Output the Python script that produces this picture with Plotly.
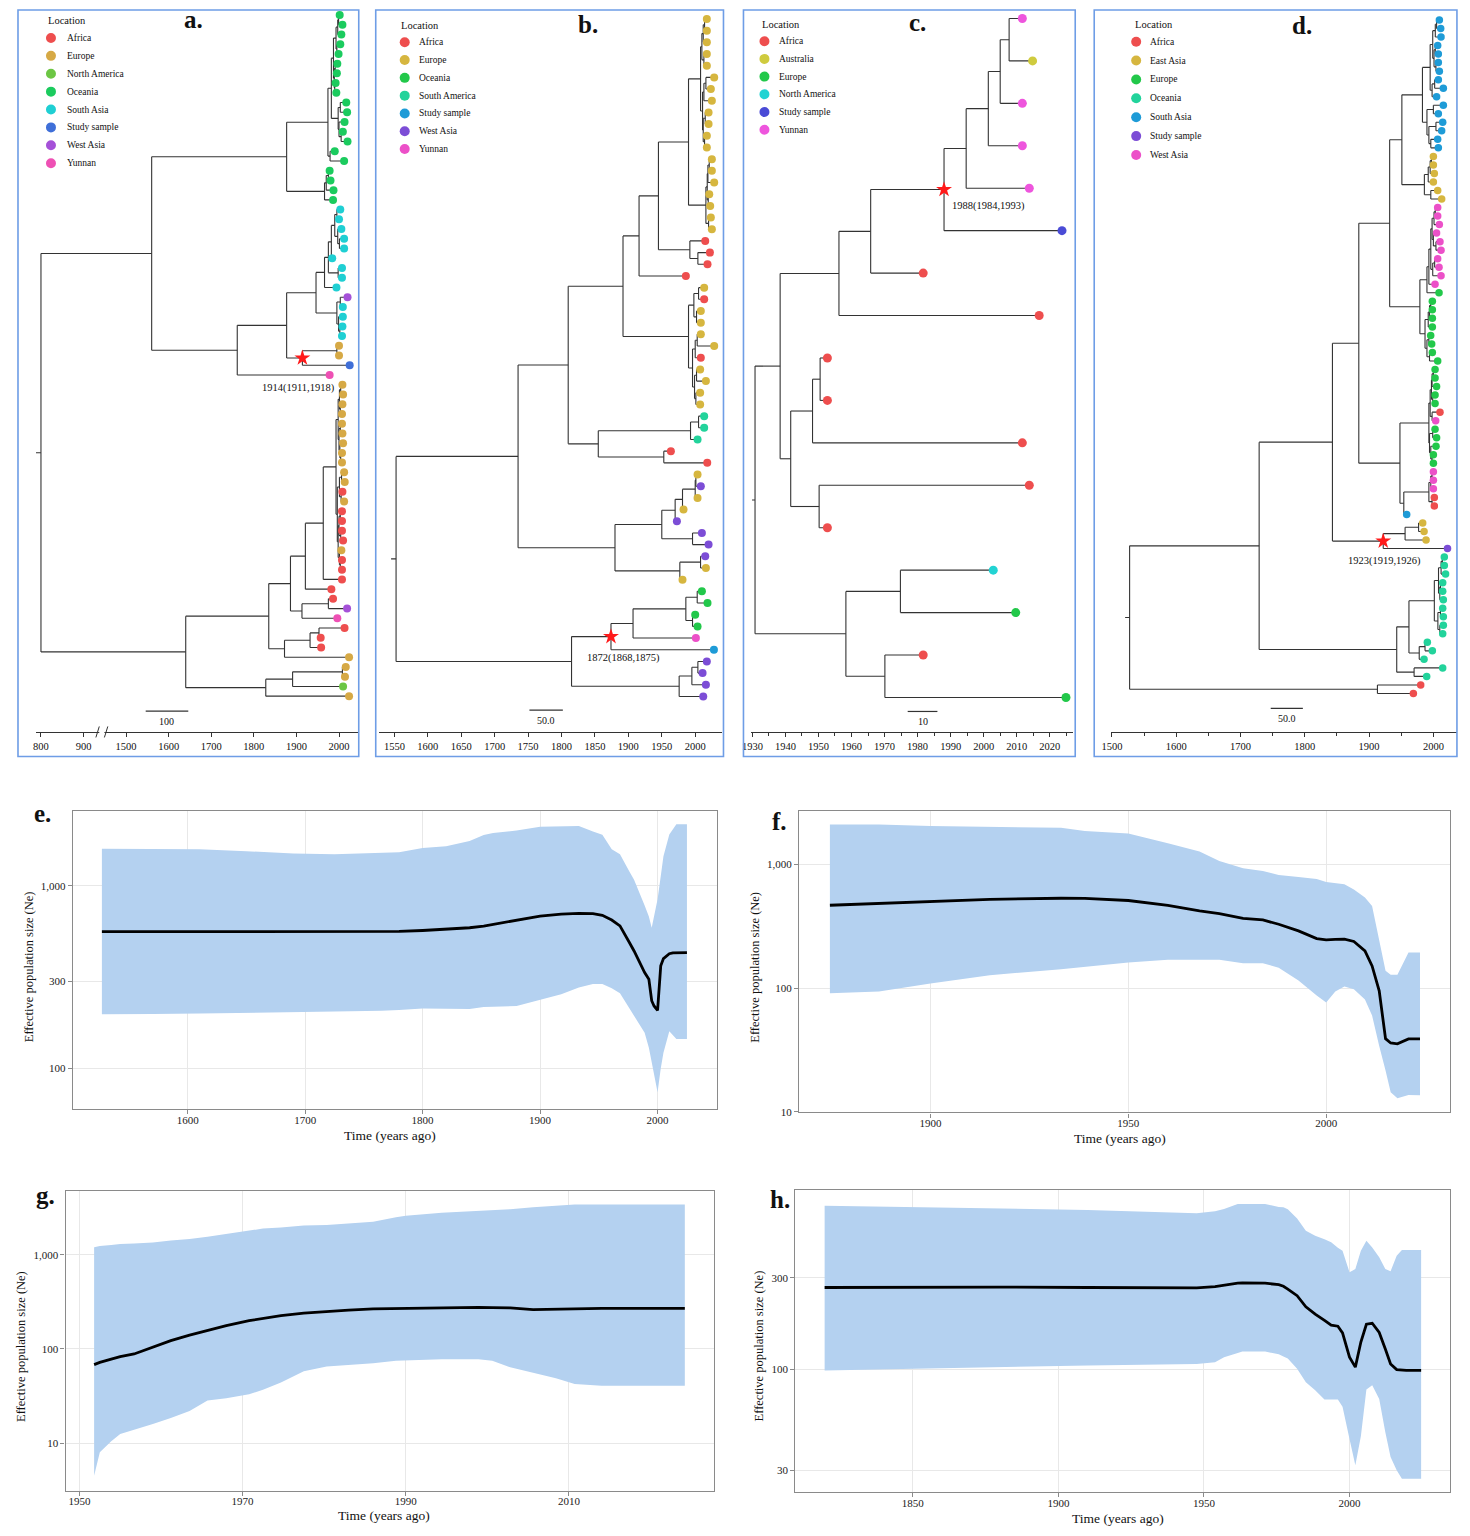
import re
import plotly.graph_objects as go

W, H = 1470, 1536
FONT = "Liberation Serif"

# ======================= TREE DATA =======================
# leaf = CODE:year ; internal = (children)year ; '*' marks the annotated node
# ---- tree a ----
A_CODES = ["AF", "EU", "NA", "OC", "SA", "SS", "WA", "YN"]
A_NAMES = ["Africa", "Europe", "North America", "Oceania", "South Asia", "Study sample", "West Asia", "Yunnan"]
A_COLORS = ["#EE4E4E", "#D6A945", "#6CC644", "#1BCB5E", "#1FCFD3", "#3F6FD8", "#A551D8", "#EE50B4"]
A_TICKS = [800, 900, 1500, 1600, 1700, 1800, 1900, 2000]
A_STAR_LABEL = "1914(1911,1918)"
A_ocA = "((((OC:2001.6,OC:2008)1999,OC:2005.5)1997,(OC:2003,OC:1999)1995)1993,((OC:1996,OC:1995)1991,(OC:1992,OC:1993.7)1990)1989)1987"
A_ocB = "((OC:2017,OC:2019)2003,(OC:2013,(OC:2009,OC:2020)2005)2000)1998"
A_ocTop = "((" + A_ocA + "," + A_ocB + ")1982,(OC:1990,OC:2012)1979)1974"
A_ocSmall = "(((OC:1978,OC:1980)1975,OC:1987)1970,OC:1986)1966"
A_oceania = "(" + A_ocTop + "," + A_ocSmall + ")1877"
A_SAg = "(((((SA:2003,SA:2000)1995,(SA:2005.5,(SA:2012,SA:2012)2001)1997)1990,SA:1984)1982,(SA:2007,SA:2007)1998)1975,SA:1994)1966"
A_WAg = "((WA:2020,SA:2009)2003,(SA:2009,(SA:2008,SA:2007)2002)1999)1995"
A_star = "((EU:2000,EU:2000)1995,SS:2025)*1914"
A_saClade = "(((" + A_SAg + "," + A_WAg + ")1946," + A_star + ")1877,YN:1978)1761"
A_upper = "(" + A_oceania + "," + A_saClade + ")1560"
A_p1 = "(((EU:2008,EU:2009.5)2004,(EU:2008,EU:2007)2003)2001,((EU:2007,EU:2008)2003,(EU:2009.5,(EU:2007,EU:2007)2004)2002)2000)1998"
A_p2 = "(((EU:2012,EU:2013.4)2006,(AF:2008,EU:2012)2005)2001,(((AF:2007,AF:2007)2003,(AF:2007,AF:2009.5)2004)2000,(EU:2005.5,(AF:2007,AF:2007)2003)2001)1998)1996"
A_n1921 = "(((" + A_p1 + "," + A_p2 + ")1993,AF:2007)1963,AF:1982)1921"
A_n1886 = "(" + A_n1921 + ",((AF:1986,WA:2019)1975,YN:1996)1913)1886"
A_n1872 = "(((AF:2013,AF:1957)1953,AF:1958)1932,EU:2023.6)1872"
A_small = "(((EU:2015.8,EU:2014)2008,NA:2009.5)1891,EU:2023.6)1828"
A_lower = "((" + A_n1886 + "," + A_n1872 + ")1835," + A_small + ")1640"
TREE_A = "(" + A_upper + "," + A_lower + ")800"

# ---- tree b ----
B_CODES = ["AF", "EU", "OC", "SAm", "SS", "WA", "YN"]
B_NAMES = ["Africa", "Europe", "Oceania", "South America", "Study sample", "West Asia", "Yunnan"]
B_COLORS = ["#EE4E4E", "#D6B63F", "#22C84A", "#22D39B", "#1E9BD7", "#7C4DD6", "#EC50C8"]
B_TICKS = [1550, 1600, 1650, 1700, 1750, 1800, 1850, 1900, 1950, 2000]
B_STAR_LABEL = "1872(1868,1875)"
B_clA = "((((EU:2017.4,EU:2017.4)2014,EU:2017.4)2012,(EU:2017.4,EU:2017.4)2013)2010,(((EU:2028.4,EU:2023.4)2016,EU:2024.9)2013,((EU:2020,EU:2020)2015,(EU:2017.4,EU:2017.4)2014)2012)2011)2008"
B_clB = "((((EU:2024.9,EU:2024.9)2021,EU:2028.4)2019,(EU:2021,EU:2022.4)2019.5)2018,(EU:2023.4,EU:2024.9)2020)2016"
B_n1916 = "(((" + B_clA + "," + B_clB + ")1990,(AF:2015,(AF:2022,AF:2018.4)2004)1992)1945,AF:1986)1916"
B_cl11 = "(((EU:2013.4,AF:2013.4)2005,(EU:2008.4,EU:2008.4)2002)1998,(((EU:2008.4,EU:2028.4)2003,AF:2008.4)2000,((EU:2007.4,EU:2016)2002,(EU:2007.4,EU:2007.4)2001)1999)1996)1990"
B_n1855 = "(((SAm:2013.4,SAm:2013.4)2005,SAm:2003.5)1993,(AF:1963.6,AF:2018)1953)1855"
B_n1810 = "((" + B_n1916 + "," + B_cl11 + ")1892," + B_n1855 + ")1810"
B_n1950 = "(((((EU:2003.5,WA:2008.4)2001,EU:2003.5)2000,EU:1982.5)1981,WA:1972.6)1970,(WA:2010,WA:2020)1996)1950"
B_n1977 = "((WA:2015,EU:2016)2008,EU:1981)1977"
B_n1735 = "(" + B_n1810 + ",(" + B_n1950 + "," + B_n1977 + ")1880)1735"
B_star = "((((OC:2010,OC:2018.4)2003,(OC:2000,OC:2003.5)1996)1986,YN:2001)1907,SS:2028)*1874"
B_waLow = "(((WA:2017.4,WA:2011)2004,WA:2016)1995,WA:2012)1976"
TREE_B = "(" + B_n1735 + ",(" + B_star + "," + B_waLow + ")1815)1552.5"

# ---- tree c ----
C_CODES = ["AF", "AU", "EU", "NA", "SS", "YN"]
C_NAMES = ["Africa", "Australia", "Europe", "North America", "Study sample", "Yunnan"]
C_COLORS = ["#EE4E4E", "#CFCB3E", "#22C84A", "#22D3D3", "#4A4BD6", "#EE55DD"]
C_TICKS = [1930, 1940, 1950, 1960, 1970, 1980, 1990, 2000, 2010, 2020]
C_STAR_LABEL = "1988(1984,1993)"
C_c4 = "((((YN:2011.7,AU:2014.8)2007.7,YN:2011.7)2005,YN:2011.7)2001.4,YN:2013.8)1994.7"
C_c7 = "(((" + C_c4 + ",SS:2023.7)*1988,AF:1981.7)1965.8,AF:2016.8)1956.2"
C_c8 = "(((AF:1952.7,AF:1952.7)1950.5,AF:2011.7)1948.2,(AF:2013.8,AF:1952.7)1950.2)1941.6"
C_low = "((NA:2002.9,EU:2009.7)1974.8,(AF:1981.7,EU:2024.9)1970.1)1958.3"
TREE_C = "((" + C_c7 + "," + C_c8 + ")1938.4," + C_low + ")1930.8"

# ---- tree d ----
D_CODES = ["AF", "EA", "EU", "OC", "SA", "SS", "WA"]
D_NAMES = ["Africa", "East Asia", "Europe", "Oceania", "South Asia", "Study sample", "West Asia"]
D_COLORS = ["#EE4E4E", "#D6B63F", "#22C84A", "#22D39B", "#1E9BD7", "#7C4DD6", "#EC50C8"]
D_TICKS = [1500, 1600, 1700, 1800, 1900, 2000]
D_STAR_LABEL = "1923(1919,1926)"
D_SAc = "(((((SA:2009.3,SA:2011.4)2005,SA:2011.9)2003,((SA:2006.7,SA:2007.7)2003,(SA:2007.7,SA:2009.3)2004)2001)1999,((SA:2007.7,SA:2015.5)2002,SA:2005)1998)1995,((SA:2015.5,SA:2007.7)2000,((SA:2014.5,SA:2012.9)2004,(SA:2006.7,SA:2007.7)1996)1993)1990)1983"
D_EAc = "((((EA:2000,EA:2000)1997,EA:2001.5)1995,EA:2000)1992,(EA:2006.7,EA:2012.9)1996)1986"
D_WAc = "(((((WA:2006.7,WA:2006.7)2003,WA:2009.3)2001,(WA:2005,(WA:2010.3,WA:2011.9)2004)2000)1998,((WA:2006.7,WA:2008.8)2002,WA:2011.9)1999)1996,WA:2002.6)1993"
D_EU8 = "((((EU:1998.4,EU:1998.4)1996,EU:1998.4)1994,EU:1998.4)1992,((EU:1995.8,EU:1997.4)1993,(EU:1998.4,EU:2006.7)1994)1990)1987"
D_n1932 = "((" + D_SAc + "," + D_EAc + ")1951,((" + D_WAc + ",EU:2008.8)1990," + D_EU8 + ")1979)1932"
D_EUc = "(((((EU:2002.6,EU:2002.6)2000,EU:2005)1998,(EU:2002.6,EU:2002.6)1999)1997,(AF:2010.3,WA:2003.6)1998)1995,((EU:2002.6,EU:2005)1999,(EU:2004.1,(EU:2000,EU:2000)1998)1996)1994)1993"
D_n1954 = "((((WA:2000,WA:2000)1998,WA:2000)1996,(AF:2001.5,AF:2001.5)1998)1993,SA:1958.5)1954"
D_n1884 = "(" + D_n1932 + ",(" + D_EUc + "," + D_n1954 + ")1948)1884"
D_star = "(((EA:1983.4,EA:1985.5)1977,EA:1988.6)1956,SS:2022)*1922"
D_OC10 = "((((OC:2017,OC:2017)2014,OC:2019)2012,((OC:2014.5,OC:2014.5)2011,OC:2015.5)2010)2008,((OC:2014.5,OC:2015.5)2011,(OC:2015.5,OC:2014.5)2010)2007)2001.5"
D_n1943 = "((" + D_OC10 + ",((OC:1990.6,OC:1998.4)1987,OC:1985.5)1978)1962,(OC:2014.5,OC:1989.6)1970)1943"
D_n1729 = "((" + D_n1884 + "," + D_star + ")1843," + D_n1943 + ")1729"
TREE_D = "(" + D_n1729 + ",(AF:1980.3,AF:1968.9)1913)1527.5"

# ======================= SKYLINE DATA =======================
E_YEAR = [1527, 1570, 1610, 1650, 1690, 1725, 1765, 1780, 1800, 1820, 1840, 1852, 1860, 1880, 1900, 1918, 1933, 1945, 1953, 1961,
          1968, 1976, 1980, 1989, 1992.6, 1995, 1997, 2000, 2002.7, 2005, 2010, 2013, 2016, 2025]
E_MED = [562, 562, 561, 560, 560, 561, 562, 563, 570, 578, 590, 603, 615, 650, 683, 700, 708, 705, 690, 650,
         604, 490, 440, 335, 308, 235, 220, 208, 365, 400, 425, 430, 431, 431]
E_LOW = [198, 199, 200, 201, 203, 205, 207, 209, 213, 213, 212, 217, 218, 220, 238, 255, 278, 290, 290, 275,
         258, 215, 195, 157, 130, 108, 92, 74, 100, 122, 160, 152, 145, 145]
E_UPP = [1600, 1590, 1590, 1550, 1505, 1490, 1520, 1530, 1615, 1650, 1760, 1900, 1950, 2010, 2110, 2130, 2130, 1990, 1910, 1590,
         1490, 1200, 1080, 780, 680, 590, 686, 846, 1130, 1455, 1915, 2050, 2180, 2180]

F_YEAR = [1874.6, 1887, 1900, 1915, 1933, 1939, 1950, 1960, 1968, 1973, 1979, 1984, 1988, 1993, 1997.6, 2000, 2002.3, 2004.6,
          2007, 2009.8, 2011.6, 2013.4, 2015, 2016.3, 2018, 2020.8, 2023.7]
F_MED = [467, 481, 500, 521, 532, 530, 510, 465, 420, 400, 365, 355, 328, 290, 251, 245, 247, 248,
         238, 200, 151, 95, 39, 36, 35.4, 38.8, 38.8]
F_LOW = [91, 94, 109, 127, 142, 148, 161, 169, 169, 169, 159, 159, 146, 115, 87, 76.6, 94, 103,
         98, 81, 60, 34, 21.6, 14.4, 12.9, 13.7, 13.6]
F_UPP = [2100, 2100, 2040, 2010, 1970, 1860, 1770, 1480, 1270, 1065, 930, 885, 820, 790, 760, 720, 700, 690,
         627, 540, 460, 250, 138, 128, 128, 194, 194]

G_YEAR = [1951.8, 1952.5, 1953.9, 1955, 1956.7, 1959, 1961.2, 1963.5, 1965.7, 1968, 1970.8, 1972.5, 1974.7, 1977.5,
          1980.3, 1983, 1986, 1988.8, 1990, 1994.4, 1998.9, 2000.6, 2002.8, 2005.6, 2008.4, 2010.7, 2014, 2024.2]
G_MED = [68.2, 72, 78, 83, 88.5, 104, 122.6, 140, 158, 177, 200, 212, 226, 240,
         250, 258, 266, 268, 270, 277, 277, 275, 273, 262, 266, 268, 270, 270]
G_LOW = [4.5, 8, 10.5, 12.5, 14, 16, 18.5, 22, 28.3, 30, 33, 37, 44, 58,
         65, 68, 70.4, 75, 76, 78, 78, 75, 64, 56, 49, 42.5, 40.8, 40.8]
G_UPP = [1204, 1240, 1270, 1300, 1320, 1350, 1420, 1470, 1560, 1660, 1800, 1900, 1950, 2050,
         2070, 2150, 2250, 2500, 2600, 2800, 2920, 2980, 3050, 3200, 3300, 3430, 3430, 3430]

H_YEAR = [1819.7, 1850, 1880, 1910, 1947.5, 1953.8, 1956.9, 1961.6, 1963.2, 1971, 1975.7, 1977.3, 1978.8, 1982, 1985, 1988.2,
          1991.4, 1993.7, 1996, 1997.6, 2000, 2002, 2003.9, 2005.8, 2007.8, 2010.2, 2012.3, 2014.1, 2016.2, 2018, 2019.5, 2024.6]
H_MED = [267, 268, 268, 267, 266, 270, 275, 281, 282, 281, 276, 271, 262, 242, 212, 194,
         180, 170, 168, 155, 116, 103, 139, 172, 174, 156, 128, 107, 100, 99, 99, 99]
H_LOW = [99, 101, 103, 105, 107, 109, 116, 122, 124, 124, 120, 117, 114, 101, 86, 78,
         70, 70, 70, 64, 43.6, 31.8, 45, 78.7, 83, 70.4, 47.3, 35.1, 30, 27.1, 27.1, 27.1]
H_UPP = [710, 700, 690, 675, 648, 664, 682, 724, 724, 724, 700, 697, 680, 610, 527, 496,
         475, 458, 430, 414, 320, 333, 414, 467, 431, 383, 333, 324, 390, 418, 418, 418]


# ======================= HELPERS =======================
def parse_tree(s):
    s = re.sub(r"\s+", "", s)
    pos = 0

    def node():
        nonlocal pos
        if s[pos] == "(":
            pos += 1
            kids = [node()]
            while s[pos] == ",":
                pos += 1
                kids.append(node())
            pos += 1  # ')'
            star = False
            if s[pos] == "*":
                star = True
                pos += 1
            m = re.match(r"[0-9.]+", s[pos:])
            pos += len(m.group())
            return {"t": float(m.group()), "kids": kids, "star": star}
        m = re.match(r"([A-Za-z]+):([0-9.]+)", s[pos:])
        pos += len(m.group())
        return {"t": float(m.group(2)), "loc": m.group(1), "kids": [], "star": False}

    return node()


def assign_y(root):
    tips = []

    def rec(n):
        if not n["kids"]:
            n["y"] = len(tips)
            tips.append(n)
        else:
            for k in n["kids"]:
                rec(k)
            n["y"] = (n["kids"][0]["y"] + n["kids"][-1]["y"]) / 2.0

    rec(root)
    return tips


def collect(n, tf, xs, ys, stars):
    if n["kids"]:
        x = tf(n["t"])
        xs += [x, x, None]
        ys += [n["kids"][0]["y"], n["kids"][-1]["y"], None]
        for k in n["kids"]:
            xs += [x, tf(k["t"]), None]
            ys += [k["y"], k["y"], None]
            collect(k, tf, xs, ys, stars)
        if n["star"]:
            stars.append(n)


def broken(t):
    if t <= 900:
        return (t - 800) / 100.0
    if t >= 1500:
        return 2 + (t - 1500) / 100.0
    return 1 + (t - 900) / 600.0


def ident(t):
    return t


# page-placement calibration (rendered page sits slightly offset/scaled in the snapshot)
CAL_X0, CAL_SX, CAL_SY = 8.0, 0.9946, 0.9975


def PX(p):
    return ((p - CAL_X0) / CAL_SX) / W


def PY(p):
    return 1 - (p / CAL_SY) / H


def note(x, y, text, size, xanchor="center", yanchor="middle", bold=False, angle=0, xref="paper", yref="paper",
         xshift=0, yshift=0):
    return dict(x=x, y=y, xref=xref, yref=yref, text=("<b>" + text + "</b>") if bold else text, showarrow=False,
                xanchor=xanchor, yanchor=yanchor, textangle=angle, xshift=xshift, yshift=yshift,
                font=dict(family=FONT, size=size, color="#111"))


fig = go.Figure()
layout = {}
shapes = []
annotations = []

TREE_TOP, TREE_AXIS = 10, 733
TREE_PANELS = [
    dict(letter="a.", tree=TREE_A, codes=A_CODES, names=A_NAMES, colors=A_COLORS, tf=broken, ticks=A_TICKS,
         minor=None, dom=(35, 357), rng=(-0.117, 7.44), tips=(15, 696.7), msize=8, star_label=A_STAR_LABEL,
         star_off=(-4, -30), scale=(1546, 100, 711.7, "100"), box=(17, 358, 10, 757), letter_xy=(193, 20),
         leg=dict(title=(45, 21), y0=38, dy=17.9, dot=50, text=64), stub=5),
    dict(letter="b.", tree=TREE_B, codes=B_CODES, names=B_NAMES, colors=B_COLORS, tf=ident, ticks=B_TICKS,
         minor=None, dom=(378.7, 722), rng=(1527.6, 2040.8), tips=(19, 697), msize=8, star_label=B_STAR_LABEL,
         star_off=(13, -21), scale=(1752, 50, 710.7, "50.0"), box=(375, 723, 10, 757), letter_xy=(587, 25),
         leg=dict(title=(398, 26), y0=42.3, dy=17.8, dot=404, text=416), stub=5),
    dict(letter="c.", tree=TREE_C, codes=C_CODES, names=C_NAMES, colors=C_COLORS, tf=ident, ticks=C_TICKS,
         minor=[1935 + 10 * i for i in range(10)], dom=(750.6, 1073), rng=(1929.6, 2027.1), tips=(18.5, 698), msize=9,
         star_label=C_STAR_LABEL, star_off=(44, -16), scale=(1977, 9, 712, "10"), box=(743, 1075, 10, 757),
         letter_xy=(917, 23), leg=dict(title=(760, 24.5), y0=41.2, dy=17.73, dot=764, text=777), stub=3),
    dict(letter="d.", tree=TREE_D, codes=D_CODES, names=D_NAMES, colors=D_COLORS, tf=ident, ticks=D_TICKS,
         minor=[1550, 1650, 1750, 1850, 1950], dom=(1110.7, 1456.7), rng=(1498.4, 2036.2), tips=(20, 694), msize=7.5,
         star_label=D_STAR_LABEL, star_off=(1, -20), scale=(1747, 50, 709, "50.0"), box=(1094, 1457, 10, 757),
         letter_xy=(1302, 26), leg=dict(title=(1133, 24.5), y0=41.7, dy=18.9, dot=1136, text=1148), stub=4.5),
]

AXIS_COL = "#333333"

for i, P in enumerate(TREE_PANELS, start=1):
    xa = "xaxis" if i == 1 else f"xaxis{i}"
    ya = "yaxis" if i == 1 else f"yaxis{i}"
    xr = "x" if i == 1 else f"x{i}"
    yr = "y" if i == 1 else f"y{i}"
    tf = P["tf"]
    root = parse_tree(P["tree"])
    tips = assign_y(root)
    n = len(tips)
    first, last = P["tips"]
    dyp = (last - first) / (n - 1)
    y_top = -(first - TREE_TOP) / dyp
    y_bot = (TREE_AXIS - first) / dyp
    ppu = (P["dom"][1] - P["dom"][0]) / (P["rng"][1] - P["rng"][0])

    xs, ys, stars = [], [], []
    collect(root, tf, xs, ys, stars)
    rx = tf(root["t"])
    xs += [rx - P["stub"] / ppu, rx, None]
    ys += [root["y"], root["y"], None]
    fig.add_trace(go.Scatter(x=xs, y=ys, mode="lines", line=dict(color="#333333", width=1.1),
                             hoverinfo="skip", xaxis=xr, yaxis=yr, showlegend=False))
    cmap = dict(zip(P["codes"], P["colors"]))
    fig.add_trace(go.Scatter(x=[tf(t["t"]) for t in tips], y=[t["y"] for t in tips], mode="markers",
                             marker=dict(size=P["msize"], color=[cmap[t["loc"]] for t in tips], line=dict(width=0)),
                             hoverinfo="skip", xaxis=xr, yaxis=yr, showlegend=False, cliponaxis=False))
    for s in stars:
        fig.add_trace(go.Scatter(x=[tf(s["t"])], y=[s["y"]], mode="markers",
                                 marker=dict(symbol="star", size=12, color="#FF1A1A", line=dict(width=0)),
                                 hoverinfo="skip", xaxis=xr, yaxis=yr, showlegend=False, cliponaxis=False))
        annotations.append(note(tf(s["t"]), s["y"], P["star_label"], 10.5, xref=xr, yref=yr,
                                xshift=P["star_off"][0], yshift=P["star_off"][1]))

    axis = dict(domain=[PX(P["dom"][0]), PX(P["dom"][1])], range=list(P["rng"]), anchor=yr,
                tickmode="array", tickvals=[tf(v) for v in P["ticks"]], ticktext=[str(v) for v in P["ticks"]],
                ticks="outside", ticklen=4, tickwidth=1, tickcolor=AXIS_COL, showline=True, linecolor=AXIS_COL,
                linewidth=1, showgrid=False, zeroline=False, tickfont=dict(family=FONT, size=10.5, color="#111"),
                fixedrange=True)
    if P["minor"]:
        axis["minor"] = dict(tickmode="array", tickvals=P["minor"], ticks="outside", ticklen=2.5,
                             tickcolor=AXIS_COL, showgrid=False)
    layout[xa] = axis
    layout[ya] = dict(domain=[PY(TREE_AXIS), PY(TREE_TOP)], range=[y_bot, y_top], visible=False, anchor=xr,
                      fixedrange=True)

    # panel box
    bx = P["box"]
    shapes.append(dict(type="rect", xref="paper", yref="paper", x0=PX(bx[0]), x1=PX(bx[1]), y0=PY(bx[3]),
                       y1=PY(bx[2]), line=dict(color="#6E9DE6", width=1.6), fillcolor="rgba(0,0,0,0)"))
    annotations.append(note(PX(P["letter_xy"][0]), PY(P["letter_xy"][1]), P["letter"], 25, bold=True))
    # legend
    L = P["leg"]
    annotations.append(note(PX(L["title"][0]), PY(L["title"][1]), "Location", 10.5, xanchor="left"))
    for j, (nm, col) in enumerate(zip(P["names"], P["colors"])):
        yy = L["y0"] + j * L["dy"]
        shapes.append(dict(type="circle", xref="paper", yref="paper", xsizemode="pixel", ysizemode="pixel",
                           xanchor=PX(L["dot"]), yanchor=PY(yy), x0=-5, x1=5, y0=-5, y1=5,
                           fillcolor=col, line=dict(width=0)))
        annotations.append(note(PX(L["text"]), PY(yy), nm, 9.5, xanchor="left"))
    # scale bar
    s0, slen, sy, stxt = P["scale"]
    x0s, x1s = tf(s0), tf(s0 + slen)
    shapes.append(dict(type="line", xref=xr, yref="paper", x0=x0s, x1=x1s, y0=PY(sy), y1=PY(sy),
                       line=dict(color="#333", width=1.2)))
    annotations.append(note((x0s + x1s) / 2, PY(sy + 10), stxt, 10, xref=xr))

# axis break marks for panel a
for bx0, bx1 in [(1.29, 1.37), (1.49, 1.57)]:
    shapes.append(dict(type="line", xref="x", yref="paper", x0=bx0, x1=bx1, y0=PY(738), y1=PY(727),
                       line=dict(color=AXIS_COL, width=1)))
shapes.append(dict(type="rect", xref="x", yref="paper", x0=1.37, x1=1.49, y0=PY(735), y1=PY(731),
                   fillcolor="white", line=dict(width=0), layer="above"))

# ======================= SKYLINES =======================
SKY = [
    dict(letter="e.", x=E_YEAR, med=E_MED, lo=E_LOW, hi=E_UPP, dom=(71.8, 717, 811.7, 1110), xr=(1502.2, 2051),
         yr=(1.777, 3.41), xt=[1600, 1700, 1800, 1900, 2000], yt=[100, 300, 1000], ytt=["100", "300", "1,000"],
         lab=(42, 814), xtit=(389, 1136), ytit=(28, 967)),
    dict(letter="f.", x=F_YEAR, med=F_MED, lo=F_LOW, hi=F_UPP, dom=(798.6, 1449.7, 811.7, 1113.3),
         xr=(1866.8, 2031.2), yr=(0.995, 3.43), xt=[1900, 1950, 2000], yt=[10, 100, 1000],
         ytt=["10", "100", "1,000"], lab=(779, 822), xtit=(1120, 1139), ytit=(755, 968)),
    dict(letter="g.", x=G_YEAR, med=G_MED, lo=G_LOW, hi=G_UPP, dom=(64.6, 713.7, 1191.7, 1491.7),
         xr=(1948.3, 2027.8), yr=(0.496, 3.68), xt=[1950, 1970, 1990, 2010], yt=[10, 100, 1000],
         ytt=["10", "100", "1,000"], lab=(45, 1196), xtit=(383, 1517), ytit=(20, 1347)),
    dict(letter="h.", x=H_YEAR, med=H_MED, lo=H_LOW, hi=H_UPP, dom=(794.8, 1450, 1190.7, 1493.3),
         xr=(1809.6, 2034.5), yr=(1.363, 2.934), xt=[1850, 1900, 1950, 2000], yt=[30, 100, 300],
         ytt=["30", "100", "300"], lab=(780, 1200), xtit=(1118, 1520), ytit=(759, 1347)),
]
FRAME = "#8A8A8A"
for k, S in enumerate(SKY, start=5):
    xa, ya, xr, yr = f"xaxis{k}", f"yaxis{k}", f"x{k}", f"y{k}"
    fig.add_trace(go.Scatter(x=S["x"] + S["x"][::-1], y=S["hi"] + S["lo"][::-1], mode="lines", fill="toself",
                             fillcolor="#B4D1F0", line=dict(width=0), hoverinfo="skip", xaxis=xr, yaxis=yr,
                             showlegend=False))
    fig.add_trace(go.Scatter(x=S["x"], y=S["med"], mode="lines", line=dict(color="#000", width=2.8),
                             hoverinfo="skip", xaxis=xr, yaxis=yr, showlegend=False))
    d = S["dom"]
    layout[xa] = dict(domain=[PX(d[0]), PX(d[1])], range=list(S["xr"]), anchor=yr, tickmode="array",
                      tickvals=S["xt"], ticks="outside", ticklen=4, tickcolor=FRAME, showline=True, mirror=True,
                      linecolor=FRAME, linewidth=1.3, showgrid=True, gridcolor="#E8E8E8", gridwidth=1,
                      zeroline=False, tickfont=dict(family=FONT, size=11, color="#222"), layer="below traces",
                      ticklabelstandoff=-4, fixedrange=True)
    layout[ya] = dict(domain=[PY(d[3]), PY(d[2])], type="log", range=list(S["yr"]), anchor=xr, tickmode="array",
                      tickvals=S["yt"], ticktext=S["ytt"], ticks="outside", ticklen=4, tickcolor=FRAME,
                      showline=True, mirror=True, linecolor=FRAME, linewidth=1.3, showgrid=True,
                      gridcolor="#E8E8E8", gridwidth=1, zeroline=False, layer="below traces",
                      tickfont=dict(family=FONT, size=11, color="#222"), fixedrange=True)
    annotations.append(note(PX(S["lab"][0]), PY(S["lab"][1]), S["letter"], 25, bold=True))
    annotations.append(note(PX(S["xtit"][0]), PY(S["xtit"][1]), "Time (years ago)", 13.5))
    annotations.append(note(PX(S["ytit"][0]), PY(S["ytit"][1]), "Effective population size (Ne)", 12.5, angle=-90))

fig.update_layout(width=W, height=H, margin=dict(l=0, r=0, t=0, b=0), paper_bgcolor="white",
                  plot_bgcolor="white", showlegend=False, font=dict(family=FONT),
                  shapes=shapes, annotations=annotations, **layout)
fig.write_html("out.html", config={"displayModeBar": False},
               post_script="document.body.style.margin='0';document.body.style.overflow='hidden';")
